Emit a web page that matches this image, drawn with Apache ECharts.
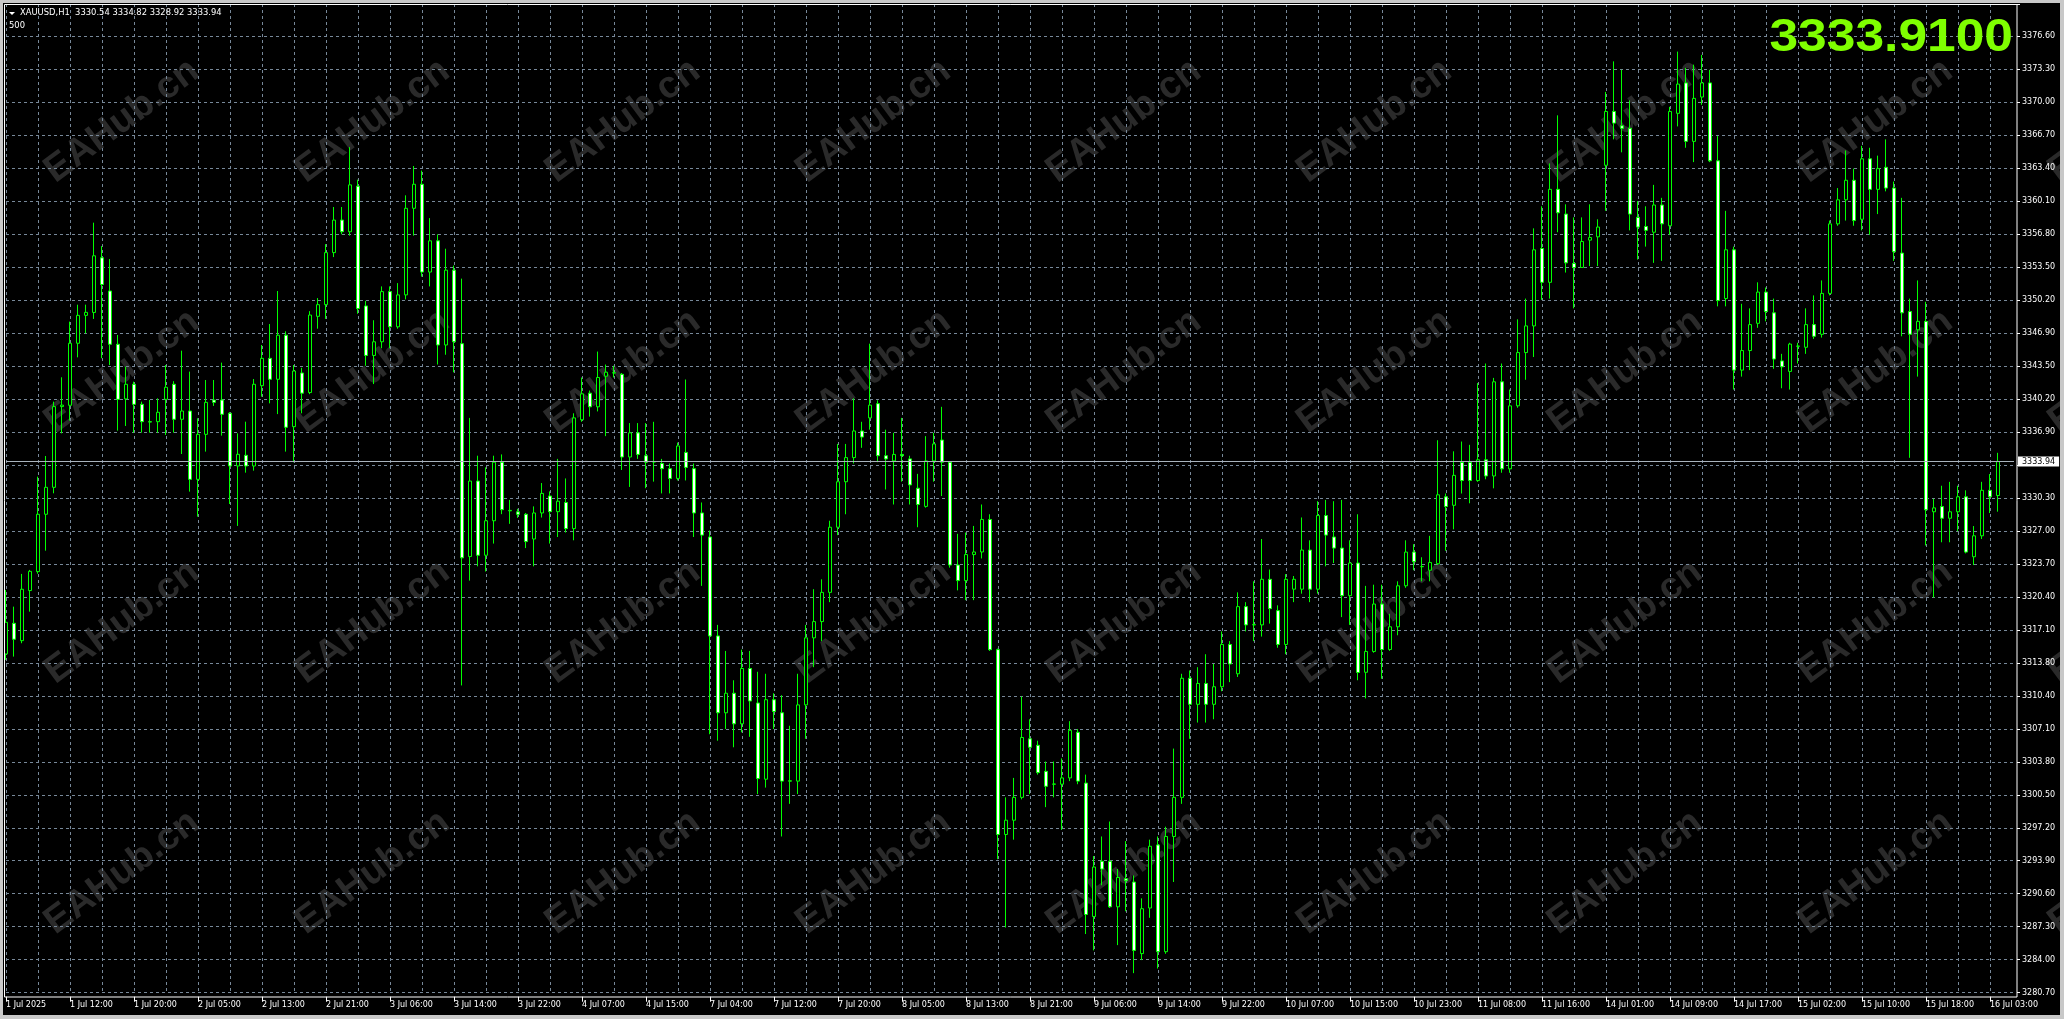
<!DOCTYPE html>
<html><head><meta charset="utf-8">
<script src="https://cdn.jsdelivr.net/npm/echarts/dist/echarts.min.js"></script>
<style>html,body{margin:0;padding:0;background:#000;overflow:hidden}#c{width:2064px;height:1019px}</style>
</head><body><div id="c"></div>
<script>
// ---------------- DATA ----------------
const SYMBOL_TEXT = 'XAUUSD,H1';
const HEADER_OHLC = '3330.54 3334.82 3328.92 3333.94';
const SUB_TEXT = '500';
const BIG_PRICE = '3333.9100';
const BID = 3333.94;
const FIRST_LABEL = '1 Jul 2025';
const WATERMARK = 'EAHub.cn';

// trading sessions: [day, first hour, last hour]
const SESSIONS = [['1 Jul',4,23],['2 Jul',1,23],['3 Jul',1,23],['4 Jul',1,19],['7 Jul',1,23],['8 Jul',1,23],
  ['9 Jul',1,23],['10 Jul',1,23],['11 Jul',1,23],['14 Jul',1,23],['15 Jul',1,23],['16 Jul',1,4]];

const Y_TICK_LABELS = ['3280.70','3284.00','3287.30','3290.60','3293.90','3297.20','3300.50','3303.80','3307.10','3310.40',
  '3313.80','3317.10','3320.40','3323.70','3327.00','3330.30','','3336.90','3340.20','3343.50','3346.90','3350.20',
  '3353.50','3356.80','3360.10','3363.40','3366.70','3370.00','3373.30','3376.60'];

const OPEN = [
3314.66,3317.73,3315.99,3321.01,3322.91,3328.66,3331.36,3339.45,3339.58,3345.80,
3348.60,3348.89,3354.37,3351.04,3345.70,3340.22,3341.69,3339.68,3337.94,3337.94,
3340.18,3341.69,3338.18,3339.01,3332.16,3336.67,3340.11,3340.11,3338.78,3333.50,
3334.57,3333.50,3341.55,3344.29,3342.19,3346.61,3337.44,3342.82,3340.86,3348.50,
3349.67,3354.89,3358.15,3356.98,3361.55,3349.54,3344.58,3345.95,3350.98,3347.45,
3350.65,3359.33,3361.74,3352.94,3356.07,3345.63,3353.13,3345.76,3324.42,3331.99,
3324.55,3328.01,3333.88,3329.00,3328.90,3328.66,3326.18,3328.79,3330.49,3328.92,
3329.84,3327.22,3338.13,3340.80,3339.43,3342.50,3342.82,3342.69,3334.40,3336.82,
3334.53,3333.90,3333.75,3333.23,3332.25,3334.86,3333.23,3328.79,3326.38,3316.46,
3308.76,3310.72,3307.65,3313.20,3309.74,3302.10,3310.07,3308.76,3301.90,3301.91,
3309.55,3316.27,3317.90,3320.83,3327.36,3331.92,3334.34,3337.01,3338.32,3339.75,
3334.53,3334.01,3334.66,3334.21,3331.27,3329.45,3334.01,3336.10,3333.88,3323.57,
3322.01,3324.62,3324.88,3328.14,3315.09,3296.56,3297.99,3300.28,3306.15,3305.50,
3302.89,3301.60,3301.60,3302.23,3306.80,3301.71,3288.34,3293.88,3293.88,3289.31,
3292.12,3291.79,3284.62,3289.19,3295.51,3284.81,3296.36,3300.28,3312.22,3309.61,
3311.70,3309.61,3311.37,3315.61,3312.67,3319.40,3317.57,3317.57,3322.14,3319.00,
3315.61,3321.15,3321.15,3325.07,3321.15,3328.53,3326.38,3325.27,3320.50,3323.77,
3312.82,3314.91,3319.66,3315.10,3317.38,3321.49,3324.87,3323.40,3323.05,3323.70,
3330.41,3329.56,3333.86,3333.86,3332.04,3334.12,3332.50,3341.94,3333.21,3339.53,
3344.87,3347.54,3355.30,3351.91,3361.23,3358.75,3353.80,3353.40,3356.14,3356.47,
3363.64,3369.04,3367.60,3367.35,3358.42,3357.51,3356.93,3359.66,3357.58,3368.85,
3371.90,3366.04,3370.48,3371.90,3364.09,3350.28,3355.17,3343.11,3345.07,3347.80,
3350.93,3348.85,3344.03,3342.98,3345.50,3345.40,3347.67,3346.70,3350.80,3357.77,
3360.18,3362.14,3358.23,3364.29,3361.23,3363.44,3361.36,3354.84,3348.98,3347.15,
3348.00,3328.91,3329.43,3328.26,3328.91,3330.41,3324.40,3326.50,3331.06,3330.54];

const HIGH = [
3321.07,3319.40,3322.68,3323.08,3332.43,3334.50,3339.95,3342.39,3347.97,3349.67,
3349.67,3357.89,3355.54,3354.24,3346.63,3343.46,3341.95,3339.95,3340.12,3340.28,
3343.62,3342.00,3345.06,3342.96,3338.28,3342.12,3342.12,3343.86,3338.90,3336.77,
3337.94,3342.22,3345.63,3347.73,3351.04,3347.00,3343.62,3343.34,3349.02,3350.33,
3355.74,3359.46,3359.46,3365.46,3362.20,3350.06,3348.11,3351.50,3351.50,3351.83,
3360.63,3363.57,3363.11,3358.35,3356.72,3355.28,3353.59,3352.28,3338.32,3334.53,
3333.36,3334.53,3334.66,3330.10,3329.20,3328.79,3329.45,3331.79,3330.95,3334.21,
3332.25,3338.78,3342.37,3341.06,3344.97,3343.67,3343.54,3342.82,3337.80,3337.80,
3337.80,3337.93,3334.21,3333.75,3335.84,3342.17,3333.75,3329.84,3327.03,3317.57,
3314.96,3312.02,3315.09,3314.96,3312.87,3312.67,3310.72,3310.52,3307.46,3312.67,
3317.57,3321.15,3322.14,3328.01,3335.71,3335.71,3340.28,3337.93,3345.76,3340.08,
3337.14,3336.82,3338.32,3334.53,3332.71,3336.49,3336.82,3339.43,3334.00,3326.70,
3326.83,3327.49,3329.64,3328.66,3315.20,3300.28,3302.23,3310.39,3308.11,3305.96,
3303.87,3303.87,3304.19,3307.92,3307.13,3302.56,3294.40,3296.36,3297.86,3293.10,
3295.90,3292.45,3290.16,3296.04,3296.36,3297.34,3305.17,3312.67,3313.00,3313.33,
3314.63,3313.65,3316.92,3315.94,3320.83,3319.85,3321.94,3326.18,3323.12,3319.53,
3322.66,3322.47,3328.34,3326.05,3329.97,3330.10,3329.97,3330.10,3326.05,3328.66,
3321.48,3321.60,3321.60,3318.68,3321.94,3326.05,3325.66,3324.35,3326.50,3336.08,
3330.74,3334.97,3335.95,3335.62,3341.81,3343.77,3342.33,3343.77,3341.16,3348.20,
3350.28,3357.32,3359.53,3363.83,3368.65,3359.73,3358.42,3358.42,3359.73,3358.23,
3371.00,3374.06,3373.21,3370.15,3360.05,3359.53,3361.68,3360.38,3369.50,3375.04,
3373.41,3373.73,3374.71,3373.21,3366.57,3359.08,3355.49,3349.76,3349.30,3351.91,
3351.39,3350.28,3344.74,3345.85,3345.85,3349.30,3350.60,3352.10,3358.10,3361.36,
3365.13,3363.31,3365.59,3365.40,3364.61,3366.24,3362.01,3360.38,3350.28,3352.10,
3349.96,3330.21,3331.52,3331.91,3331.52,3331.06,3327.48,3331.91,3332.69,3334.82];

const LOW = [
3314.06,3314.39,3315.73,3318.90,3322.70,3325.01,3330.76,3336.77,3338.05,3344.39,
3346.80,3348.24,3344.30,3343.62,3337.04,3337.51,3336.84,3336.84,3336.84,3336.84,
3336.61,3336.84,3334.70,3330.93,3328.42,3334.94,3339.52,3336.54,3329.69,3327.49,
3332.83,3333.03,3340.45,3339.78,3338.70,3334.94,3333.87,3338.78,3340.70,3347.26,
3348.24,3354.44,3356.72,3356.59,3348.76,3343.54,3341.71,3345.30,3345.30,3347.26,
3350.20,3356.59,3352.48,3351.50,3343.67,3344.65,3342.89,3311.50,3322.01,3323.44,
3322.92,3325.72,3328.67,3327.70,3328.30,3325.27,3323.44,3328.33,3325.72,3326.38,
3326.83,3326.05,3337.93,3338.45,3338.97,3336.49,3342.37,3333.10,3331.40,3334.21,
3331.27,3331.93,3330.75,3330.75,3332.05,3332.05,3326.38,3321.48,3306.61,3305.96,
3307.13,3305.30,3306.80,3306.35,3300.61,3301.26,3307.13,3296.36,3299.63,3300.61,
3306.15,3313.33,3315.94,3319.85,3326.57,3328.66,3333.75,3335.32,3337.14,3333.88,
3331.14,3329.64,3331.93,3329.64,3327.36,3329.32,3331.93,3330.49,3323.31,3321.03,
3320.05,3320.05,3324.23,3314.96,3294.08,3287.23,3296.04,3300.08,3300.61,3302.56,
3299.30,3300.28,3297.02,3301.91,3301.60,3286.58,3284.94,3291.47,3289.19,3285.47,
3288.86,3282.66,3283.97,3288.21,3283.12,3284.60,3291.80,3299.63,3306.15,3307.78,
3307.78,3308.11,3310.92,3311.83,3312.35,3316.92,3315.94,3316.40,3317.70,3315.28,
3314.63,3319.85,3320.70,3319.85,3320.70,3323.44,3323.77,3318.35,3317.57,3312.02,
3310.20,3314.78,3312.17,3314.97,3316.53,3321.29,3323.05,3321.94,3321.94,3323.57,
3325.00,3327.15,3330.74,3329.76,3331.91,3332.17,3331.26,3332.82,3332.82,3339.34,
3342.14,3344.42,3350.15,3350.28,3356.93,3352.89,3349.30,3353.40,3353.54,3353.54,
3359.08,3366.24,3364.94,3357.12,3354.19,3355.49,3353.86,3354.06,3356.67,3367.54,
3365.40,3363.96,3369.70,3363.96,3349.50,3349.50,3341.16,3342.46,3343.11,3347.35,
3348.00,3343.24,3341.29,3341.16,3343.77,3344.74,3346.24,3346.37,3350.60,3357.58,
3358.10,3357.58,3357.12,3356.67,3358.75,3361.03,3354.06,3346.50,3334.32,3342.46,
3325.53,3320.31,3325.85,3325.85,3326.96,3324.74,3323.57,3326.18,3328.78,3328.92];

const CLOSE = [
3317.83,3316.13,3321.14,3322.94,3328.66,3331.36,3339.45,3339.60,3345.80,3348.60,
3348.90,3354.57,3351.69,3345.70,3340.18,3341.69,3339.68,3337.94,3337.90,3338.88,
3341.39,3338.18,3339.01,3332.16,3336.67,3339.88,3339.88,3338.68,3333.50,3334.67,
3333.50,3341.69,3344.29,3342.19,3346.61,3337.38,3343.02,3340.80,3348.63,3349.67,
3354.89,3358.15,3356.98,3361.68,3349.28,3344.58,3345.95,3350.98,3347.45,3350.65,
3359.33,3361.74,3352.94,3356.07,3345.63,3353.13,3345.95,3324.29,3331.99,3324.55,
3328.01,3333.88,3329.12,3329.05,3328.65,3325.92,3328.79,3330.75,3328.92,3329.97,
3327.22,3338.32,3340.73,3339.43,3342.37,3342.90,3342.85,3334.40,3336.82,3334.66,
3333.88,3333.92,3333.23,3332.25,3335.51,3333.36,3328.79,3326.57,3316.46,3308.76,
3310.72,3307.65,3313.20,3309.94,3302.17,3310.07,3308.89,3301.91,3301.95,3309.55,
3316.27,3317.90,3320.83,3327.36,3331.92,3334.34,3337.01,3336.40,3339.60,3334.53,
3334.21,3334.66,3334.53,3331.60,3329.64,3334.01,3335.71,3333.88,3323.57,3322.01,
3324.62,3324.88,3328.14,3315.09,3296.56,3297.99,3300.28,3306.28,3305.30,3302.76,
3301.39,3301.62,3302.23,3307.00,3301.91,3288.54,3293.30,3293.10,3289.31,3292.25,
3291.93,3284.94,3289.12,3295.38,3284.81,3296.36,3300.28,3312.22,3309.61,3311.70,
3309.61,3311.37,3315.61,3313.65,3319.40,3317.57,3317.60,3322.14,3319.20,3315.61,
3322.14,3322.14,3325.07,3321.15,3328.53,3326.57,3325.27,3320.50,3323.77,3312.80,
3314.91,3319.66,3315.10,3317.38,3321.49,3324.87,3323.90,3323.42,3323.83,3330.61,
3329.43,3332.56,3332.04,3332.04,3334.12,3332.50,3341.94,3333.21,3339.53,3344.87,
3347.54,3355.17,3351.91,3361.23,3358.88,3353.86,3353.40,3356.00,3356.40,3357.45,
3369.04,3367.87,3367.35,3358.75,3357.45,3357.12,3359.66,3357.77,3369.04,3371.78,
3366.04,3370.35,3371.90,3364.09,3350.08,3355.17,3343.11,3345.07,3347.67,3350.93,
3348.98,3344.22,3343.44,3345.72,3345.52,3347.67,3346.50,3350.80,3357.77,3360.18,
3362.14,3358.10,3364.29,3361.23,3363.31,3361.36,3354.97,3348.85,3346.70,3348.00,
3329.11,3329.30,3328.26,3328.91,3330.41,3324.87,3326.50,3331.06,3330.41,3333.94];

// ---------------- BUILD ----------------
const CATS = [];
SESSIONS.forEach(([d, h0, h1]) => {
  for (let h = h0; h <= h1; h++) CATS.push(d + ' ' + String(h).padStart(2, '0') + ':00');
});
CATS.push('', ''); // empty space on the right

const candles = OPEN.map((o, i) => [o, CLOSE[i], LOW[i], HIGH[i]]);

const Y_MIN = 3280.70, Y_TOP_LABEL = 3376.60;
const Y_STEP = (Y_TOP_LABEL - Y_MIN) / 29;
const Y_MAX = 3379.81;
function yLabel(v) {
  const k = Math.round((v - Y_MIN) / Y_STEP);
  if (Math.abs(v - (Y_MIN + k * Y_STEP)) > 0.01) return '';
  return Y_TICK_LABELS[k] || '';
}

const FONT = 'DejaVu Sans';
const GRID_COLOR = '#778899';
const GREEN = '#00ff00';

const graphics = [];
// watermarks
for (let r = 0; r < 4; r++) {
  for (let c = 0; c < 9; c++) {
    graphics.push({
      type: 'text', x: 122 + c * 250.5, y: 121 + r * 250.5, rotation: 36.5 * Math.PI / 180, z: -5, silent: true,
      style: { text: WATERMARK, fill: '#2a2a2a', font: 'bold 38px "Liberation Sans"', align: 'center', verticalAlign: 'middle' }
    });
  }
}
// plot border
graphics.push({ type: 'rect', z: 50, silent: true, shape: { x: 4.5, y: 4.5, width: 2012.5, height: 992.5 },
  style: { fill: null, stroke: '#ffffff', lineWidth: 1 } });
// window frame
graphics.push({ type: 'rect', z: 60, silent: true, shape: { x: 0, y: 0, width: 2064, height: 3 }, style: { fill: '#c8c8c8' } });
graphics.push({ type: 'rect', z: 60, silent: true, shape: { x: 0, y: 0, width: 3, height: 1019 }, style: { fill: '#c8c8c8' } });
graphics.push({ type: 'rect', z: 60, silent: true, shape: { x: 2060, y: 0, width: 4, height: 1019 }, style: { fill: '#c8c8c8' } });
graphics.push({ type: 'rect', z: 60, silent: true, shape: { x: 0, y: 1015, width: 2064, height: 4 }, style: { fill: '#c8c8c8' } });
// header
graphics.push({ type: 'polygon', z: 60, silent: true, shape: { points: [[9, 12], [15, 12], [12, 15]] }, style: { fill: '#ffffff' } });
graphics.push({ type: 'text', z: 60, silent: true, x: 20, y: 13,
  style: { text: SYMBOL_TEXT + '  ' + HEADER_OHLC, fill: '#ffffff', font: '8.4px "' + FONT + '"', verticalAlign: 'middle', align: 'left' } });
graphics.push({ type: 'text', z: 60, silent: true, x: 9, y: 26,
  style: { text: SUB_TEXT, fill: '#ffffff', font: '8.4px "' + FONT + '"', verticalAlign: 'middle', align: 'left' } });
// big price text
graphics.push({ type: 'text', z: 70, silent: true, x: 2013, y: 38, scaleX: 1.12,
  style: { text: BIG_PRICE, fill: '#7fff00', font: 'bold 46px "Liberation Sans"', align: 'right', verticalAlign: 'middle' } });

const chart = echarts.init(document.getElementById('c'), null, { renderer: 'canvas' });
chart.setOption({
  backgroundColor: '#000000',
  animation: false,
  grid: { left: 6, right: 50, top: 4, bottom: 26.3, containLabel: false },
  xAxis: {
    type: 'category', data: CATS, boundaryGap: false, offset: 4,
    axisLine: { show: false },
    axisTick: { show: true, interval: 7, length: 5, lineStyle: { color: '#ffffff' } },
    axisLabel: { interval: 7, color: '#ffffff', fontSize: 8, fontFamily: FONT, align: 'left', margin: 4,
      formatter: (v, i) => i === 0 ? FIRST_LABEL : v },
    splitLine: { show: true, interval: 3, lineStyle: { color: GRID_COLOR, type: [3, 3], width: 1 } }
  },
  yAxis: {
    type: 'value', position: 'right', min: Y_MIN, max: Y_MAX, interval: Y_STEP, offset: 3,
    axisLine: { show: false },
    axisTick: { show: true, length: 3, lineStyle: { color: '#ffffff' } },
    axisLabel: { color: '#ffffff', fontSize: 8, fontFamily: FONT, margin: 5, formatter: yLabel, showMinLabel: true, showMaxLabel: true },
    splitLine: { show: true, lineStyle: { color: GRID_COLOR, type: [3, 3], width: 1 } }
  },
  series: [{
    type: 'candlestick', data: candles, barWidth: 4,
    itemStyle: { color: '#000000', color0: '#ffffff', borderColor: GREEN, borderColor0: GREEN, borderColorDoji: GREEN, borderWidth: 1 },
    markLine: {
      silent: true, symbol: ['none', 'none'], animation: false,
      data: [{ yAxis: BID }],
      lineStyle: { color: '#a9b3bd', width: 1, type: 'solid' },
      label: { show: true, position: 'end', formatter: BID.toFixed(2), backgroundColor: '#ffffff', color: '#000000',
        fontSize: 8, fontFamily: FONT, padding: [1, 4, 1, 4], distance: 4 }
    }
  }],
  graphic: graphics
});
</script>
</body></html>
